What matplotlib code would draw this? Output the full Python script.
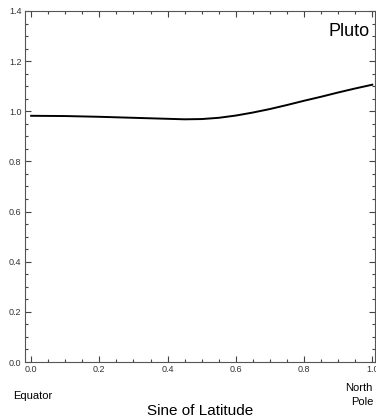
import matplotlib
matplotlib.use("Agg")
import matplotlib.pyplot as plt
from matplotlib.ticker import MultipleLocator

plt.rcParams['font.family'] = ['Liberation Sans', 'DejaVu Sans']

# Curve (sine of latitude vs. value)
sin_lat = [0.0, 0.1, 0.2, 0.3, 0.4, 0.45, 0.5, 0.55, 0.6, 0.65, 0.7, 0.75, 0.8, 0.85, 0.9, 0.95, 1.0]
value = [0.982, 0.981, 0.978, 0.974, 0.970, 0.968, 0.969, 0.974, 0.983, 0.995, 1.009, 1.025,
         1.042, 1.058, 1.075, 1.091, 1.106]

W, H = 376, 419
fig = plt.figure(figsize=(W / 100, H / 100), dpi=100)
ax = fig.add_axes([25 / W, (H - 362) / H, 350 / W, 351 / H])

ax.plot(sin_lat, value, color='black', lw=1.4)

ax.set_xlim(-0.018, 1.008)
ax.set_ylim(0.0, 1.4)
ax.xaxis.set_major_locator(MultipleLocator(0.2))
ax.xaxis.set_minor_locator(MultipleLocator(0.05))
ax.yaxis.set_major_locator(MultipleLocator(0.2))
ax.yaxis.set_minor_locator(MultipleLocator(0.05))
ax.xaxis.set_major_formatter(lambda v, p: f"{v:.1f}")
ax.yaxis.set_major_formatter(lambda v, p: f"{v:.1f}")

ax.tick_params(which='both', direction='in', top=True, right=True, color='#444444',
               labelsize=6.5, labelcolor='#333333', width=0.8)
ax.tick_params(which='major', length=4, pad=2.5)
ax.tick_params(which='minor', length=2)
for s in ax.spines.values():
    s.set_color('#555555')
    s.set_linewidth(0.8)

ax.text(0.985, 0.965, "Pluto", transform=ax.transAxes, ha='right', va='top', fontsize=13)

fig.text(13 / W, 1 - 396 / H, "Equator", ha='left', va='center', fontsize=8)
fig.text(373 / W, 1 - 395 / H, "North\nPole", ha='right', va='center', fontsize=8,
         multialignment='right', linespacing=1.4)
fig.text(200 / W, 1 - 411 / H, "Sine of Latitude", ha='center', va='center', fontsize=11)

fig.savefig("out.png", dpi=100)
